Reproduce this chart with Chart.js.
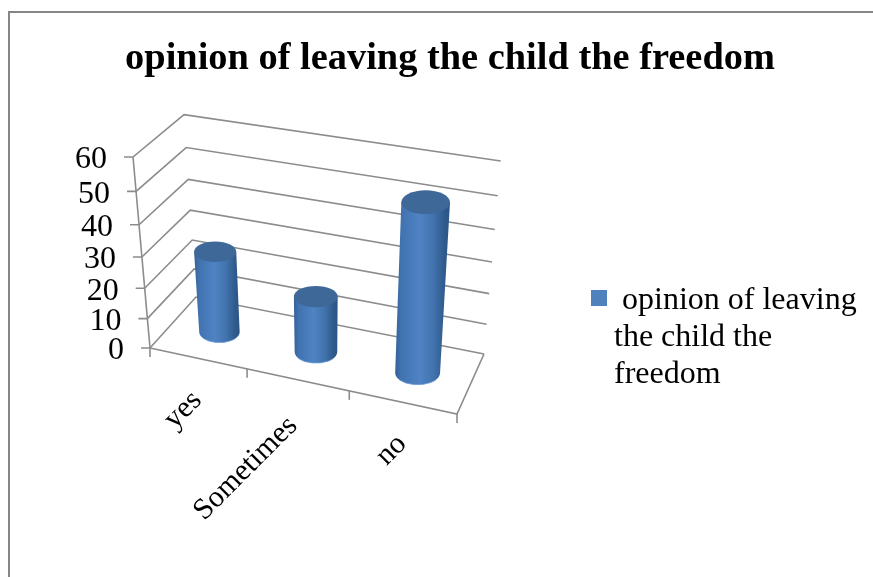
<!DOCTYPE html>
<html>
<head>
<meta charset="utf-8">
<style>html,body{margin:0;padding:0;background:#fff}canvas{display:block}</style>
<script src="https://cdn.jsdelivr.net/npm/chart.js@4"></script>
</head>
<body>
<canvas id="c" width="873" height="577" style="width:873px;height:577px"></canvas>
<script>
const categories = ['yes', 'Sometimes', 'no'];
const seriesName = 'opinion of leaving the child the freedom';
const seriesValues = [27, 18.5, 53];
const legendLines = ['opinion of leaving', 'the child the', 'freedom'];
const yTickStep = 10;
const yMax = 60;

const SERIF = '"Liberation Serif", "Times New Roman", serif';
const GRID = '#8c8c8c';
// camera: where the eight corners of the 3-D plot box land on the page
const box = {
  f0l: [150, 348], f0r: [457, 414], b0l: [196, 297], b0r: [484, 354],
  f1l: [133, 157], f1r: [469, 212], b1l: [184, 114.7], b1r: [500.7, 161]
};
const warp = (t, k) => k * t / (1 + (k - 1) * t);
const mix = (a, b, t) => [a[0] + (b[0] - a[0]) * t, a[1] + (b[1] - a[1]) * t];
function project(u, v, w) {
  const U = warp(u, 0.925), V = warp(v, 0.91);
  const f0 = mix(box.f0l, box.f0r, U), b0 = mix(box.b0l, box.b0r, U);
  const f1 = mix(box.f1l, box.f1r, U), b1 = mix(box.b1l, box.b1r, U);
  return mix(mix(f0, b0, w), mix(f1, b1, w), V);
}
function seg(ctx, a, b) { ctx.beginPath(); ctx.moveTo(a[0], a[1]); ctx.lineTo(b[0], b[1]); ctx.stroke(); }

const scene = {
  id: 'scene',
  beforeDraw(chart) {
    const ctx = chart.ctx;
    const yS = chart.scales.y, xS = chart.scales.x, area = chart.chartArea;
    ctx.save();
    ctx.fillStyle = '#fff'; ctx.fillRect(0, 0, chart.width, chart.height);
    // outer frame
    ctx.strokeStyle = '#868686'; ctx.lineWidth = 2;
    ctx.beginPath(); ctx.moveTo(9, chart.height); ctx.lineTo(9, 12); ctx.lineTo(chart.width, 12); ctx.stroke();
    // walls
    ctx.strokeStyle = GRID; ctx.lineWidth = 1.6; ctx.lineJoin = 'miter';
    ctx.fillStyle = '#000'; ctx.font = '32px ' + SERIF;
    ctx.textAlign = 'right'; ctx.textBaseline = 'middle';
    yS.ticks.forEach((t) => {
      const v = (area.bottom - yS.getPixelForValue(t.value)) / area.height;
      const a = project(0, v, 0), b = project(0, v, 1), c = project(1, v, 1);
      ctx.beginPath(); ctx.moveTo(a[0] - 9, a[1]); ctx.lineTo(a[0], a[1]); ctx.lineTo(b[0], b[1]); ctx.lineTo(c[0], c[1]); ctx.stroke();
      ctx.fillText(String(t.value), a[0] - 26, a[1] + 3);
    });
    seg(ctx, project(0, 0, 0), project(0, 1, 0));
    // floor
    const fl = project(0, 0, 0), fr = project(1, 0, 0), br = project(1, 0, 1);
    ctx.beginPath(); ctx.moveTo(fl[0], fl[1]); ctx.lineTo(fr[0], fr[1]); ctx.lineTo(br[0], br[1]); ctx.stroke();
    const n = categories.length;
    for (let i = 0; i <= n; i++) {
      const p = project(i / n, 0, 0);
      seg(ctx, p, [p[0], p[1] + 9]);
    }
    // category labels
    ctx.font = '30px ' + SERIF;
    categories.forEach((name, i) => {
      const u = (xS.getPixelForValue(i) - area.left) / area.width;
      const p = project(u, 0, 0);
      ctx.save();
      ctx.translate(p[0] + 1, p[1] + 36);
      ctx.rotate(-Math.PI / 4);
      ctx.textAlign = 'right'; ctx.textBaseline = 'middle';
      ctx.fillText(name, -0.06 * ctx.measureText(name).width, 0);
      ctx.restore();
    });
    ctx.restore();
  },
  afterDatasetsDraw(chart) {
    const ctx = chart.ctx, area = chart.chartArea;
    ctx.save();
    chart.getDatasetMeta(0).data.forEach((bar) => {
      const u = (bar.x - area.left) / area.width;
      const du = bar.width / 2 / area.width;
      const top = (area.bottom - bar.y) / area.height;
      const w = 0.5;
      const c0 = project(u, 0, w), c1 = project(u, top, w);
      const r0 = (project(u + du, 0, w)[0] - project(u - du, 0, w)[0]) / 2;
      const r1 = (project(u + du, top, w)[0] - project(u - du, top, w)[0]) / 2;
      const ry0 = r0 * 0.52, ry1 = r1 * 0.49;
      const xa = Math.min(c0[0] - r0, c1[0] - r1), xb = Math.max(c0[0] + r0, c1[0] + r1);
      const g = ctx.createLinearGradient(xa, 0, xb, 0);
      g.addColorStop(0, '#33609a'); g.addColorStop(0.1, '#3f72ae');
      g.addColorStop(0.45, '#5083c4'); g.addColorStop(0.7, '#4273ad');
      g.addColorStop(0.9, '#2f5a8c'); g.addColorStop(1, '#2c5585');
      ctx.fillStyle = g;
      ctx.beginPath();
      ctx.moveTo(c1[0] - r1, c1[1]);
      ctx.lineTo(c0[0] - r0, c0[1]);
      ctx.ellipse(c0[0], c0[1], r0, ry0, 0, Math.PI, 0, true);
      ctx.lineTo(c1[0] + r1, c1[1]);
      ctx.closePath();
      ctx.fill();
      ctx.strokeStyle = 'rgba(110,160,220,0.8)'; ctx.lineWidth = 1;
      ctx.beginPath(); ctx.ellipse(c0[0], c0[1], r0, ry0, 0, Math.PI * 0.8, Math.PI * 0.2, true); ctx.stroke();
      ctx.fillStyle = '#3e6897';
      ctx.beginPath(); ctx.ellipse(c1[0], c1[1], r1, ry1, 0, 0, Math.PI * 2); ctx.fill();
    });
    // legend
    ctx.fillStyle = '#4f81bd'; ctx.fillRect(591, 290, 16, 16);
    ctx.fillStyle = '#000'; ctx.font = '32px ' + SERIF;
    ctx.textAlign = 'left'; ctx.textBaseline = 'alphabetic';
    legendLines.forEach((line, i) => ctx.fillText(line, i === 0 ? 622 : 614, 309 + i * 37));
    ctx.restore();
  }
};

new Chart(document.getElementById('c'), {
  type: 'bar',
  data: {
    labels: categories,
    datasets: [{ label: seriesName, data: seriesValues, backgroundColor: 'rgba(0,0,0,0)', borderWidth: 0, barPercentage: 0.43, categoryPercentage: 1 }]
  },
  options: {
    responsive: false,
    animation: false,
    layout: { padding: { left: 100, right: 73, top: 0, bottom: 50 } },
    scales: {
      x: { display: false },
      y: { display: false, min: 0, max: yMax, ticks: { stepSize: yTickStep } }
    },
    plugins: {
      legend: { display: false },
      tooltip: { enabled: false },
      title: {
        display: true, text: seriesName, fullSize: false, color: '#000',
        font: { family: SERIF, size: 38.4, weight: 'bold', lineHeight: 1.2 },
        padding: { top: 36, bottom: 10 }
      }
    }
  },
  plugins: [scene]
});
</script>
</body>
</html>
